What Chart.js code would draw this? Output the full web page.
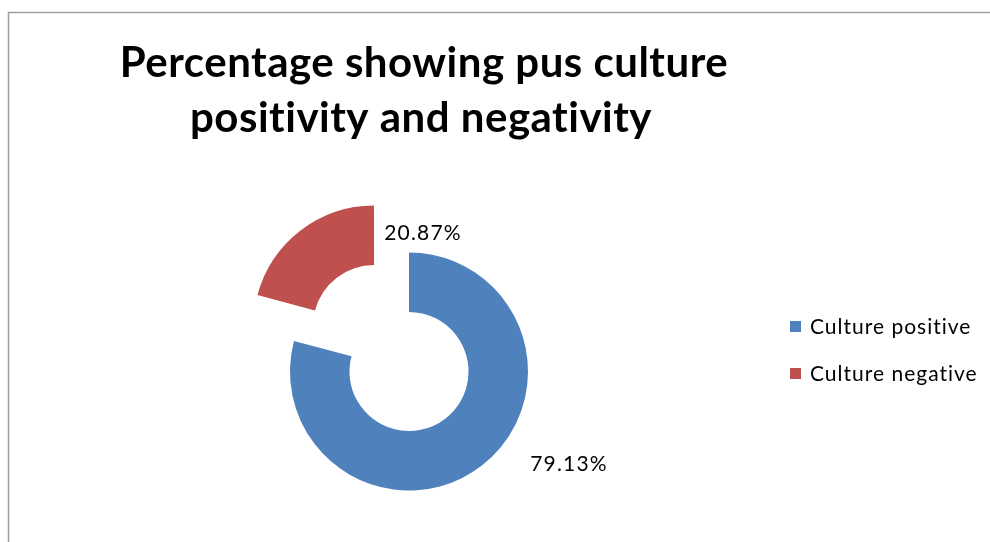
<!DOCTYPE html>
<html><head><meta charset="utf-8">
<script src="https://cdn.jsdelivr.net/npm/chart.js@4/dist/chart.umd.min.js"></script>
<style>html,body{margin:0;padding:0;background:#fff}canvas{display:block}</style>
</head><body>
<canvas id="c" width="990" height="542"></canvas>
<script>
const titleLines = ['Percentage showing pus culture', 'positivity and negativity'];
const categories = ['Culture positive', 'Culture negative'];
const values = [79.13, 20.87];
const valueLabels = ['79.13%', '20.87%'];
const colors = ['#4F81BD', '#C0504D'];

const FONT = 'Lato, "Open Sans", sans-serif';
const labelOffsets = [[160, 93], [14, -138]];

const decor = {
  id: 'decor',
  beforeDraw(chart) {
    const ctx = chart.ctx;
    ctx.save();
    ctx.fillStyle = '#fff';
    ctx.fillRect(0, 0, chart.width, chart.height);
    ctx.strokeStyle = '#a0a0a0';
    ctx.lineWidth = 1.5;
    ctx.beginPath();
    ctx.moveTo(8.5, chart.height + 2);
    ctx.lineTo(8.5, 12.5);
    ctx.lineTo(chart.width + 2, 12.5);
    ctx.stroke();
    ctx.restore();
  },
  afterDraw(chart) {
    const ctx = chart.ctx;
    ctx.save();
    // title
    ctx.fillStyle = '#000';
    ctx.font = 'bold 42px ' + FONT;
    ctx.letterSpacing = '0.5px';
    ctx.textAlign = 'center';
    ctx.textBaseline = 'alphabetic';
    ctx.fillText(titleLines[0], 424, 77);
    ctx.fillText(titleLines[1], 421, 132);
    // data labels
    const meta = chart.getDatasetMeta(0);
    ctx.font = '21px ' + FONT;
    ctx.letterSpacing = '1.2px';
    ctx.fillStyle = '#000';
    ctx.textBaseline = 'middle';
    meta.data.forEach((arc, i) => {
      ctx.fillText(valueLabels[i], arc.x + labelOffsets[i][0], arc.y + labelOffsets[i][1]);
    });
    // legend
    ctx.letterSpacing = '1px';
    ctx.textAlign = 'left';
    categories.forEach((c, i) => {
      const y = 326 + i * 47;
      ctx.fillStyle = colors[i];
      ctx.fillRect(790, y - 5, 11, 11);
      ctx.fillStyle = '#000';
      ctx.fillText(c, 810, y + 1);
    });
    ctx.restore();
  }
};

new Chart(document.getElementById('c'), {
  type: 'doughnut',
  data: {
    labels: categories,
    datasets: [{
      data: values,
      backgroundColor: colors,
      borderWidth: 0,
      offset: [0, 228],
      hoverOffset: 0
    }]
  },
  options: {
    responsive: false,
    animation: false,
    radius: 119,
    cutout: '50%',
    layout: { padding: { left: 0, right: 172, top: 201, bottom: 0 } },
    plugins: { legend: { display: false }, title: { display: false }, tooltip: { enabled: false } },
    events: []
  },
  plugins: [decor]
});
</script>
</body></html>
